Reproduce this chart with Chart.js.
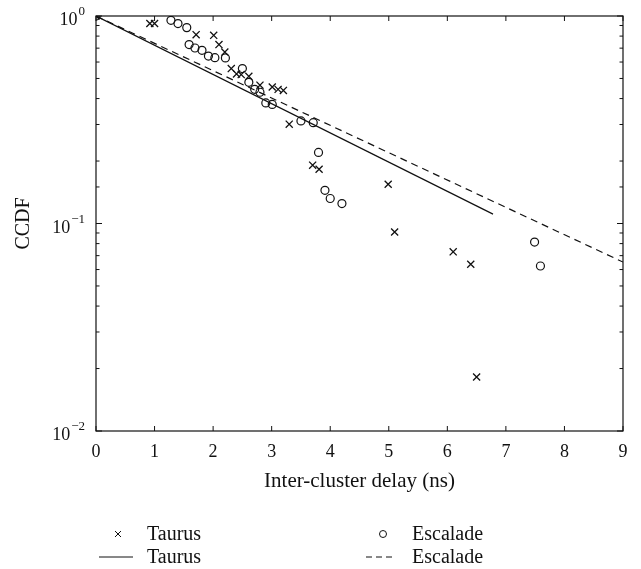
<!DOCTYPE html>
<html lang="en">
<head>
  <meta charset="UTF-8">
  <title>Inter-cluster delay CCDF</title>
  <style>
    body { margin: 0; background: #fff; }
    #wrap { width: 641px; height: 569px; }
  </style>
</head>
<body>
  <div id="wrap">
    <canvas id="myChart" width="641" height="569"></canvas>
  </div>

  <script src="https://cdn.jsdelivr.net/npm/chart.js"></script>

  <script>
    // measured points (delay in ns, CCDF)
    const taurusDelay = [0, 0.92, 1.0, 1.71, 2.01, 2.10, 2.20, 2.31, 2.40, 2.48, 2.61, 2.80, 3.01, 3.11, 3.20, 3.30, 3.70, 3.81, 4.99, 5.10, 6.10, 6.40, 6.50];
    const taurusCcdf  = [1, 0.92, 0.92, 0.813, 0.807, 0.728, 0.67, 0.558, 0.526, 0.522, 0.512, 0.464, 0.455, 0.443, 0.438, 0.301, 0.191, 0.1825, 0.1545, 0.091, 0.073, 0.0636, 0.0182];

    const escaladeDelay = [0, 1.28, 1.40, 1.55, 1.59, 1.69, 1.81, 1.92, 2.03, 2.21, 2.50, 2.61, 2.71, 2.80, 2.90, 3.01, 3.50, 3.71, 3.80, 3.91, 4.00, 4.20, 7.49, 7.59];
    const escaladeCcdf  = [1, 0.953, 0.919, 0.879, 0.728, 0.701, 0.683, 0.641, 0.63, 0.628, 0.558, 0.479, 0.443, 0.429, 0.381, 0.375, 0.312, 0.306, 0.22, 0.1445, 0.132, 0.1247, 0.0814, 0.0624];

    // exponential fits (straight lines on the log axis), end points only
    const taurusFitDelay = [0, 6.78];
    const taurusFitCcdf  = [1, 0.111];
    const escaladeFitDelay = [0, 9];
    const escaladeFitCcdf  = [1, 0.0652];

    const xTicks = [0, 1, 2, 3, 4, 5, 6, 7, 8, 9];

    const pts = (xs, ys) => xs.map((x, i) => ({ x: x, y: ys[i] }));
    const serif = "'Liberation Serif', 'DejaVu Serif', serif";

    const isDecade = v => {
      const lg = Math.log10(v);
      return Math.abs(lg - Math.round(lg)) < 1e-6;
    };

    // box round the plot with inward ticks, and 10^n labels on the y axis
    const frameTicks = {
      id: 'frameTicks',
      afterDatasetsDraw(chart) {
        const { ctx, chartArea: a, scales: { x, y } } = chart;
        ctx.save();
        ctx.strokeStyle = '#111';
        ctx.lineWidth = 1.2;
        ctx.strokeRect(a.left, a.top, a.right - a.left, a.bottom - a.top);
        ctx.lineWidth = 1;
        const seg = (x1, y1, x2, y2) => {
          ctx.beginPath(); ctx.moveTo(x1, y1); ctx.lineTo(x2, y2); ctx.stroke();
        };
        x.ticks.forEach(t => {
          const px = x.getPixelForValue(t.value);
          seg(px, a.bottom, px, a.bottom - 5);
          seg(px, a.top, px, a.top + 5);
        });
        ctx.fillStyle = '#111';
        ctx.textBaseline = 'alphabetic';
        y.ticks.forEach(t => {
          const py = y.getPixelForValue(t.value);
          const major = isDecade(t.value);
          const len = major ? 6 : 3.5;
          seg(a.left, py, a.left + len, py);
          seg(a.right, py, a.right - len, py);
          if (major) {
            const exp = String(Math.round(Math.log10(t.value))).replace('-', '\u2212');
            ctx.font = '13px ' + serif;
            ctx.textAlign = 'right';
            const ew = ctx.measureText(exp).width;
            const xr = 85;
            ctx.fillText(exp, xr, py - 1);
            ctx.font = '18px ' + serif;
            ctx.fillText('10', xr - ew - 1, py + 9);
          }
        });
        ctx.restore();
      }
    };

    // two-column legend under the axis title
    const gridLegend = {
      id: 'gridLegend',
      afterDraw(chart) {
        const ctx = chart.ctx;
        const ds = chart.data.datasets;
        ctx.save();
        ctx.strokeStyle = '#111';
        ctx.fillStyle = '#111';
        ctx.lineWidth = 1;
        ctx.font = '20px ' + serif;
        ctx.textBaseline = 'middle';
        ctx.textAlign = 'left';
        const seg = (x1, y1, x2, y2) => {
          ctx.beginPath(); ctx.moveTo(x1, y1); ctx.lineTo(x2, y2); ctx.stroke();
        };
        const r1 = 534, r2 = 557;
        // row 1: markers
        seg(115, r1 - 3, 121, r1 + 3); seg(115, r1 + 3, 121, r1 - 3);
        ctx.fillText(ds[2].label, 147, r1 + 1);
        ctx.beginPath(); ctx.arc(383, r1, 3.5, 0, Math.PI * 2); ctx.stroke();
        ctx.fillText(ds[3].label, 412, r1 + 1);
        // row 2: fitted lines
        seg(99, r2, 133, r2);
        ctx.fillText(ds[0].label, 147, r2 + 1);
        ctx.setLineDash([6, 4]);
        seg(366, r2, 394, r2);
        ctx.setLineDash([]);
        ctx.fillText(ds[1].label, 412, r2 + 1);
        ctx.restore();
      }
    };

    const ctx = document.getElementById('myChart').getContext('2d');
    const chart = new Chart(ctx, {
      type: 'scatter',
      data: {
        datasets: [
          {
            label: 'Taurus',
            data: pts(taurusFitDelay, taurusFitCcdf),
            showLine: true,
            borderColor: '#111',
            borderWidth: 1.2,
            pointRadius: 0
          },
          {
            label: 'Escalade',
            data: pts(escaladeFitDelay, escaladeFitCcdf),
            showLine: true,
            borderColor: '#111',
            borderWidth: 1.2,
            borderDash: [7, 5],
            pointRadius: 0
          },
          {
            label: 'Taurus',
            data: pts(taurusDelay, taurusCcdf),
            pointStyle: 'crossRot',
            pointRadius: 5,
            borderColor: '#111',
            borderWidth: 1.3
          },
          {
            label: 'Escalade',
            data: pts(escaladeDelay, escaladeCcdf),
            pointStyle: 'circle',
            pointRadius: 4,
            backgroundColor: 'rgba(0,0,0,0)',
            borderColor: '#111',
            borderWidth: 1.2
          }
        ]
      },
      options: {
        responsive: false,
        animation: false,
        layout: { padding: { left: 0, top: 16, right: 18, bottom: 0 } },
        plugins: {
          legend: { display: false },
          tooltip: { enabled: false }
        },
        scales: {
          x: {
            type: 'linear',
            min: 0,
            max: 9,
            afterBuildTicks(scale) {
              scale.ticks = xTicks.map(v => ({ value: v }));
            },
            afterFit(scale) { scale.height = 138; },
            grid: { display: false },
            border: { display: false },
            ticks: {
              color: '#111',
              font: { family: serif, size: 18 },
              padding: 2,
              maxRotation: 0
            },
            title: {
              display: true,
              text: 'Inter-cluster delay (ns)',
              color: '#111',
              font: { family: serif, size: 21 },
              padding: { top: 0, bottom: 75 }
            }
          },
          y: {
            type: 'logarithmic',
            min: 0.01,
            max: 1,
            afterFit(scale) { scale.width = 96; },
            grid: { display: false },
            border: { display: false },
            ticks: { display: false, autoSkip: false },
            title: {
              display: true,
              text: 'CCDF',
              color: '#111',
              font: { family: serif, size: 20 },
              padding: { top: 12, bottom: 0 }
            }
          }
        }
      },
      plugins: [frameTicks, gridLegend]
    });
  </script>
</body>
</html>
